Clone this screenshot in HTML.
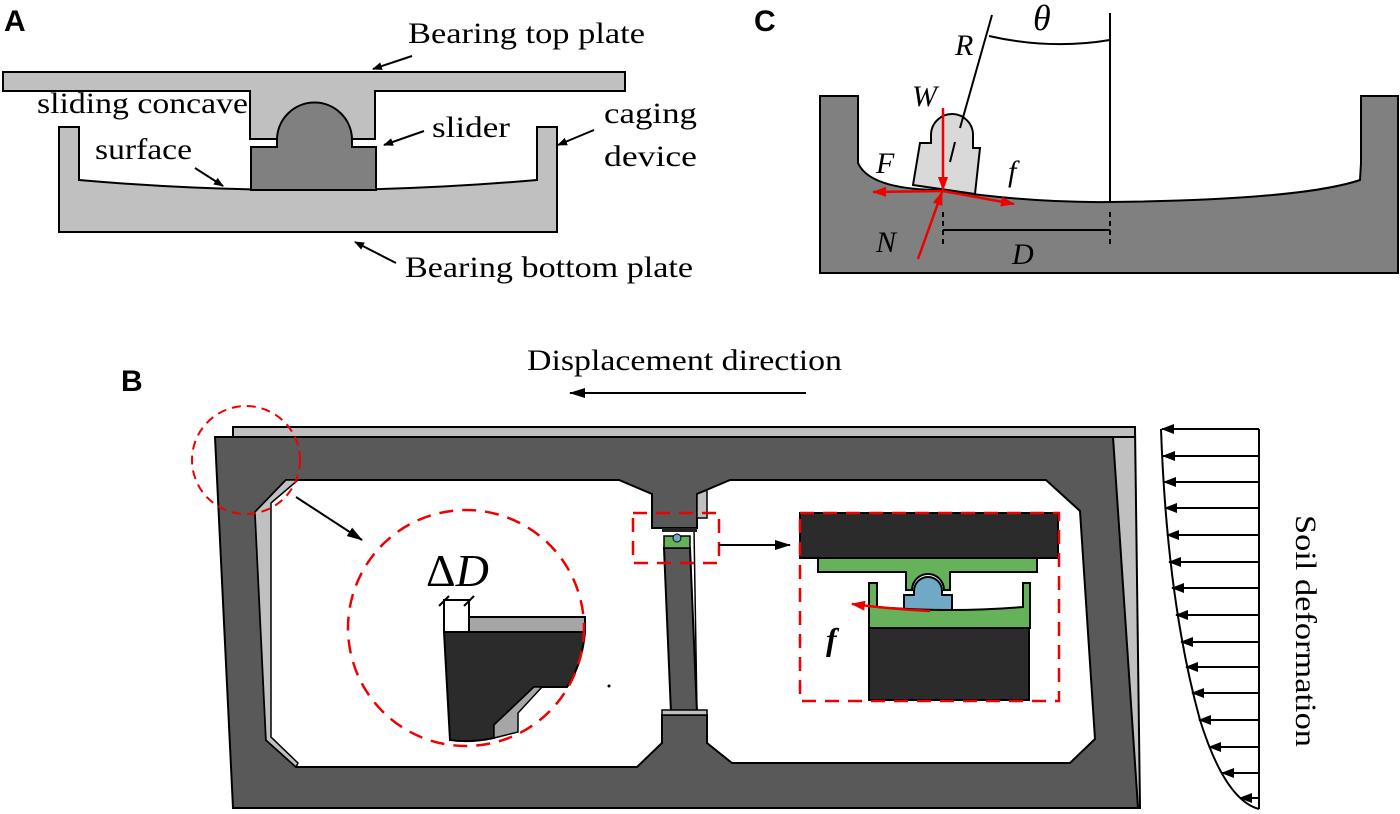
<!DOCTYPE html>
<html><head><meta charset="utf-8"><style>body{margin:0;background:#fff}svg{display:block}</style></head>
<body>
<svg width="1400" height="814" viewBox="0 0 1400 814" xmlns="http://www.w3.org/2000/svg">
<defs>
<marker id="ab" markerWidth="10" markerHeight="8" refX="9" refY="4" orient="auto" markerUnits="userSpaceOnUse"><path d="M0,0 L10,4 L0,8 Z" fill="#000"/></marker>
<marker id="ab2" markerWidth="16" markerHeight="10" refX="15" refY="5" orient="auto" markerUnits="userSpaceOnUse"><path d="M0,0 L16,5 L0,10 Z" fill="#000"/></marker>
<marker id="ab3" markerWidth="13" markerHeight="10" refX="12" refY="5" orient="auto" markerUnits="userSpaceOnUse"><path d="M0,0 L13,5 L0,10 Z" fill="#000"/></marker>
<marker id="ar" markerWidth="14" markerHeight="10" refX="13" refY="5" orient="auto" markerUnits="userSpaceOnUse"><path d="M0,0 L14,5 L0,10 Z" fill="#e00"/></marker>
</defs>
<g font-family="Liberation Serif, serif" fill="#000">
<!-- Panel A -->
<text x="4" y="31" font-family="Liberation Sans, sans-serif" font-weight="bold" font-size="30">A</text>
<path d="M59,127 H79 V180 Q308,200 537,180 V127 H557 V232 H59 Z" fill="#c0c0c0" stroke="#000" stroke-width="2"/>
<path d="M3,72 H625 V91 H375 V139 H250 V91 H3 Z" fill="#c0c0c0" stroke="#000" stroke-width="2"/>
<rect x="252" y="140" width="123" height="6" fill="#fff"/>
<path d="M251,190 V147 H277 V140 A37,37 0 0 1 352,140 V147 H376 V190 Z" fill="#808080" stroke="#000" stroke-width="2"/>
<g font-size="30" lengthAdjust="spacingAndGlyphs">
<text x="408" y="43" textLength="237" lengthAdjust="spacingAndGlyphs">Bearing top plate</text>
<text x="37" y="113" textLength="211" lengthAdjust="spacingAndGlyphs">sliding concave</text>
<text x="95" y="159" textLength="97" lengthAdjust="spacingAndGlyphs">surface</text>
<text x="432" y="137" textLength="78" lengthAdjust="spacingAndGlyphs">slider</text>
<text x="604" y="123" textLength="93" lengthAdjust="spacingAndGlyphs">caging</text>
<text x="604" y="166" textLength="93" lengthAdjust="spacingAndGlyphs">device</text>
<text x="405" y="277" textLength="288" lengthAdjust="spacingAndGlyphs">Bearing bottom plate</text>
</g>
<g stroke="#000" stroke-width="2" fill="none" marker-end="url(#ab)">
<line x1="412" y1="56" x2="373" y2="69"/>
<line x1="195" y1="168" x2="223" y2="186"/>
<line x1="424" y1="131" x2="384" y2="145"/>
<line x1="594" y1="130" x2="558" y2="145"/>
<line x1="396" y1="263" x2="355" y2="242"/>
</g>
<!-- Panel C -->
<text x="754" y="31" font-family="Liberation Sans, sans-serif" font-weight="bold" font-size="30">C</text>
<path d="M820,96 H858 V163 Q870,190 943,190 Q1030,203 1110,202 Q1300,200 1360,180 L1361,163 V96 H1398 V273 H820 Z" fill="#808080" stroke="#000" stroke-width="2"/>
<path d="M913,185 L920,143 H931 V134 A21,21 0 0 1 973,136 V148 H980 L975,194 Q940,189 913,185 Z" fill="#d9d9d9" stroke="#000" stroke-width="2"/>
<line x1="1110" y1="13" x2="1110" y2="202" stroke="#000" stroke-width="2"/>
<line x1="992" y1="15" x2="960" y2="128" stroke="#000" stroke-width="2"/>
<line x1="955" y1="142" x2="950" y2="162" stroke="#000" stroke-width="2"/>
<path d="M989,36 Q1050,50 1110,40" fill="none" stroke="#000" stroke-width="2"/>
<g stroke="#000" stroke-width="2" stroke-dasharray="5,4"><line x1="943" y1="212" x2="943" y2="247"/><line x1="1110" y1="212" x2="1110" y2="247"/></g>
<line x1="943" y1="230" x2="1110" y2="230" stroke="#000" stroke-width="2"/>
<g stroke="#e00" stroke-width="2.5" fill="none" marker-end="url(#ar)">
<line x1="943" y1="108" x2="943" y2="190"/>
<line x1="943" y1="191" x2="873" y2="192"/>
<line x1="943" y1="191" x2="1014" y2="204"/>
<line x1="918" y1="259" x2="942" y2="192"/>
</g>
<g font-style="italic" font-size="30">
<text x="1033" y="30" font-size="36">θ</text>
<text x="955" y="55">R</text>
<text x="912" y="106">W</text>
<text x="876" y="173">F</text>
<text x="1008" y="181">f</text>
<text x="876" y="252">N</text>
<text x="1012" y="264">D</text>
</g>
<!-- Panel B -->
<text x="121" y="391" font-family="Liberation Sans, sans-serif" font-weight="bold" font-size="30">B</text>
<text x="527" y="370" font-size="30" textLength="315" lengthAdjust="spacingAndGlyphs">Displacement direction</text>
<line x1="806" y1="393" x2="570" y2="393" stroke="#000" stroke-width="2" marker-end="url(#ab2)"/>
<path d="M233,427 H1135 L1140,808 H1130 Z" fill="#c0c0c0" stroke="#000" stroke-width="2"/>
<path d="M233,427 H1135 V437 H233 Z" fill="#c0c0c0" stroke="#000" stroke-width="2"/>
<path d="M215,437 H1113 L1138,808 H233 Z" fill="#595959" stroke="#000" stroke-width="2"/>
<path d="M286,480 H619 L652,494 V528 H697 V494 L730,480 H1046 L1080,511 L1095,739 L1070,763 H732 L707,743 V715 H662 V743 L637,767 H296 L266,740 L255,512 Z" fill="#fff" stroke="#000" stroke-width="2"/>
<path d="M286,480 H298 L271,503 L271,737 L298,763 L296,767 L266,740 L255,512 Z" fill="#c0c0c0" stroke="#000" stroke-width="1.5"/>
<path d="M697,494 L707,490 V518 H697 Z" fill="#c0c0c0" stroke="#000" stroke-width="1.5"/>
<path d="M664,548 H690 L697,713 H671 Z" fill="#595959" stroke="#000" stroke-width="2"/>
<line x1="694" y1="530" x2="697" y2="713" stroke="#000" stroke-width="1.5"/>
<rect x="662" y="710" width="45" height="5" fill="#c0c0c0" stroke="#000" stroke-width="1.5"/>
<rect x="662" y="528" width="35" height="4" fill="#222"/>
<path d="M664,536 H690 V548 H664 Z" fill="#66b25a" stroke="#000" stroke-width="1.5"/>
<circle cx="677" cy="538" r="4" fill="#6fa9c6" stroke="#000"/>
<!-- zoom circle -->
<path d="M444,632 H585 Q582,665 567,687 H534 L494,725 V738 Q470,743 450,740 Z" fill="#2b2b2b" stroke="#000" stroke-width="2"/>
<rect x="469" y="617" width="116" height="15" fill="#a6a6a6" stroke="#000" stroke-width="2"/>
<path d="M534,687 H542 L518,713 V732 L494,738 V725 Z" fill="#a6a6a6" stroke="#000" stroke-width="1.5"/>
<rect x="444" y="600" width="25" height="32" fill="#fff" stroke="#000" stroke-width="2"/>
<line x1="439" y1="606" x2="449" y2="596" stroke="#000" stroke-width="2"/>
<line x1="464" y1="606" x2="474" y2="596" stroke="#000" stroke-width="2"/>
<text x="426" y="586" font-size="46">Δ<tspan font-style="italic">D</tspan></text>
<circle cx="609" cy="686" r="1.5" fill="#000"/>
<circle cx="466" cy="628" r="118" fill="none" stroke="#e00" stroke-width="2.5" stroke-dasharray="14,9"/>
<circle cx="246" cy="460" r="54" fill="none" stroke="#e00" stroke-width="2" stroke-dasharray="9,6"/>
<line x1="296" y1="497" x2="362" y2="540" stroke="#000" stroke-width="2" marker-end="url(#ab2)"/>
<!-- zoom rect -->
<rect x="633" y="513" width="86" height="50" fill="none" stroke="#e00" stroke-width="2.5" stroke-dasharray="14,9"/>
<line x1="719" y1="545" x2="790" y2="545" stroke="#000" stroke-width="2" marker-end="url(#ab2)"/>
<rect x="800" y="513" width="258" height="45" fill="#2b2b2b" stroke="#000" stroke-width="2"/>
<path d="M818,558 H1037 V572 H950 V590 H944 A16,16 0 0 0 912,590 H906 V572 H818 Z" fill="#66b25a" stroke="#000" stroke-width="2"/>
<path d="M904,610 V595 H914 V591 A14,14 0 0 1 942,591 V595 H952 V610 Z" fill="#6fa9c6" stroke="#000" stroke-width="2"/>
<path d="M869,583 H877 V607 Q950,613 1023,607 V583 H1030 V628 H869 Z" fill="#66b25a" stroke="#000" stroke-width="2"/>
<rect x="869" y="628" width="160" height="72" fill="#2b2b2b" stroke="#000" stroke-width="2"/>
<path d="M930,611 Q890,609 852,604" fill="none" stroke="#e00" stroke-width="2.5" marker-end="url(#ar)"/>
<text x="826" y="650" font-size="32" font-style="italic" font-weight="bold">f</text>
<rect x="800" y="513" width="259" height="188" fill="none" stroke="#e00" stroke-width="2.5" stroke-dasharray="14,9"/>
<!-- soil -->
<line x1="1259" y1="429" x2="1259" y2="809" stroke="#000" stroke-width="2"/>
<path d="M1161,429 Q1167,600 1200,720 Q1225,800 1259,809" fill="none" stroke="#000" stroke-width="2"/>
<g stroke="#000" stroke-width="2" marker-end="url(#ab3)">
<line x1="1259" y1="429" x2="1162" y2="429"/>
<line x1="1259" y1="456" x2="1163" y2="456"/>
<line x1="1259" y1="482" x2="1164" y2="482"/>
<line x1="1259" y1="508" x2="1165" y2="508"/>
<line x1="1259" y1="535" x2="1167" y2="535"/>
<line x1="1259" y1="562" x2="1169" y2="562"/>
<line x1="1259" y1="588" x2="1172" y2="588"/>
<line x1="1259" y1="615" x2="1176" y2="615"/>
<line x1="1259" y1="642" x2="1181" y2="642"/>
<line x1="1259" y1="667" x2="1186" y2="667"/>
<line x1="1259" y1="693" x2="1192" y2="693"/>
<line x1="1259" y1="720" x2="1199" y2="720"/>
<line x1="1259" y1="747" x2="1209" y2="747"/>
<line x1="1259" y1="773" x2="1222" y2="773"/>
<line x1="1259" y1="798" x2="1240" y2="798"/>
</g>
<text x="0" y="0" font-size="30" text-anchor="middle" textLength="232" lengthAdjust="spacingAndGlyphs" transform="translate(1296,631) rotate(90)">Soil deformation</text>
</g>
</svg>
</body></html>
